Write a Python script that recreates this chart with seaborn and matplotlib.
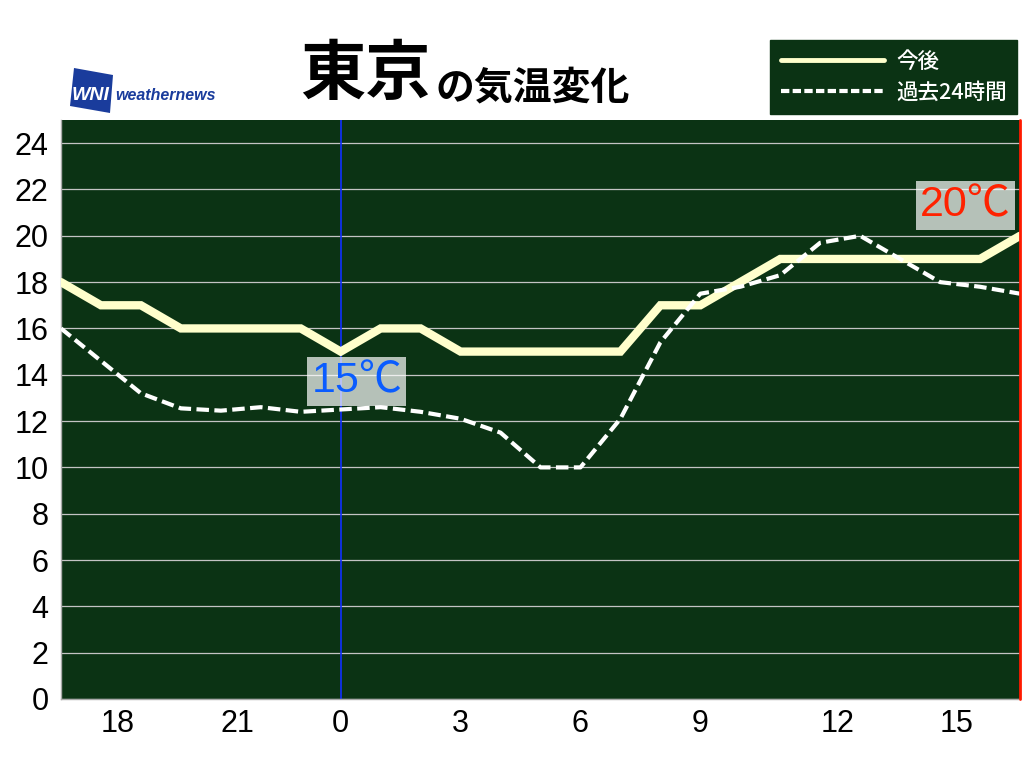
import matplotlib
matplotlib.use('Agg')
import matplotlib.pyplot as plt
import seaborn as sns
import pandas as pd
from matplotlib.patches import Polygon
from matplotlib.lines import Line2D

# ---- data ----
hours = [17, 18, 19, 20, 21, 22, 23, 0, 1, 2, 3, 4, 5, 6, 7, 8, 9, 10, 11, 12, 13, 14, 15, 16, 17]
future_temp = [18, 17, 17, 16, 16, 16, 16, 15, 16, 16, 15, 15, 15, 15, 15, 17, 17, 18, 19, 19, 19, 19, 19, 19, 20]
past_temp = [16.0, 14.6, 13.2, 12.55, 12.45, 12.6, 12.4, 12.5, 12.6, 12.4, 12.1, 11.5, 10.0, 10.0, 12.1,
             15.4, 17.5, 17.8, 18.3, 19.7, 20.0, 19.0, 18.0, 17.8, 17.5]
tick_hours = [18, 21, 0, 3, 6, 9, 12, 15]
y_ticks = list(range(0, 25, 2))
now_label = "15℃"
max_label = "20℃"
legend_labels = ["今後", "過去24時間"]

W, H = 1024, 768
sns.set_style("white")
plt.rcParams['font.family'] = ['Noto Sans CJK JP', 'DejaVu Sans']

df = pd.DataFrame({"pos": range(len(hours)), "hour": hours,
                   "future": future_temp, "past": past_temp})

fig = plt.figure(figsize=(W / 100, H / 100), dpi=100)
fig.patch.set_facecolor('white')

def fx(px):
    return px / W

def fy(py):
    return 1 - py / H

ax = fig.add_axes([fx(61), fy(699), fx(1020) - fx(61), fy(120) - fy(699)])
BG = '#0b3314'
ax.set_facecolor(BG)

sns.lineplot(data=df, x="pos", y="future", ax=ax, color='#ffffcc', lw=6,
             solid_joinstyle='miter', zorder=3)
sns.lineplot(data=df, x="pos", y="past", ax=ax, color='white', lw=3, zorder=4)
ax.lines[-1].set_dashes([3.0, 1.3])

ax.set_xlim(0, len(hours) - 1)
ax.set_ylim(0, 25)
ax.set_xlabel("")
ax.set_ylabel("")

# grid
ax.set_yticks(y_ticks)
ax.yaxis.grid(True, color='#c4c4c4', lw=0.9)
ax.xaxis.grid(False)
ax.set_axisbelow(True)

now_pos = hours.index(0)
ax.axvline(now_pos, color='#1030ff', lw=1.2, zorder=2)
ax.axvline(len(hours) - 1, color='#ff1a00', lw=2, zorder=5, clip_on=False)

tick_pos = []
for h in tick_hours:
    for i, hh in enumerate(hours):
        if hh == h and i > 0:
            tick_pos.append(i)
            break
ax.set_xticks(tick_pos)
ax.set_xticklabels([str(h) for h in tick_hours])
ax.tick_params(axis='both', length=0, colors='black')
ax.tick_params(axis='x', pad=7, labelsize=22)
ax.tick_params(axis='y', pad=9, labelsize=22)
for lab in ax.get_yticklabels():
    lab.set_family(['Liberation Sans', 'DejaVu Sans'])
for lab in ax.get_xticklabels():
    lab.set_family(['Liberation Sans', 'DejaVu Sans'])
    if len(lab.get_text()) == 2:
        lab.set_ha('left')

for s in ['top', 'right']:
    ax.spines[s].set_visible(False)
ax.spines['left'].set_color('#aaaaaa')
ax.spines['bottom'].set_color('#aaaaaa')
ax.spines['left'].set_linewidth(1)
ax.spines['bottom'].set_linewidth(1)

# value labels
lab_family = ['Liberation Sans', 'Noto Sans CJK JP', 'DejaVu Sans']
ax.text(now_pos + 0.4, 13.7, now_label, color='#0a5cff', fontsize=31,
        family=lab_family, ha='center', va='center', zorder=6,
        bbox=dict(boxstyle='square,pad=0.1', facecolor='white', alpha=0.7, edgecolor='none'))
ax.text(22.63, 21.3, max_label, color='#ff2200', fontsize=31,
        family=lab_family, ha='center', va='center', zorder=6,
        bbox=dict(boxstyle='square,pad=0.1', facecolor='white', alpha=0.7, edgecolor='none'))

# title
fig.text(fx(300), fy(75), "東京", fontsize=47, fontweight='bold', color='black',
         ha='left', va='center', family=['Noto Sans CJK JP'])
fig.text(fx(436), fy(88), "の気温変化", fontsize=28, fontweight='bold', color='black',
         ha='left', va='center', family=['Noto Sans CJK JP'])

# logo
poly = Polygon([(fx(74), fy(68)), (fx(113), fy(75)), (fx(110), fy(113)), (fx(70), fy(106))],
               closed=True, transform=fig.transFigure, facecolor='#1a3c9c', edgecolor='none')
fig.patches.append(poly)
fig.text(fx(91), fy(95), "WNI", color='white', fontsize=14, fontweight='bold', style='italic',
         ha='center', va='center', family=['Liberation Sans'])
fig.text(fx(115), fy(96), "weathernews", color='#1a3c9c', fontsize=11.5, fontweight='bold',
         style='italic', ha='left', va='center', family=['Liberation Sans'])

# legend
handles = [Line2D([], [], color='#ffffcc', lw=3.5),
           Line2D([], [], color='white', lw=3, dashes=[2.0, 0.8])]
leg = fig.legend(handles, legend_labels, loc='upper left',
                 bbox_to_anchor=(fx(770), fy(40)), bbox_transform=fig.transFigure,
                 frameon=True, fancybox=False, facecolor=BG, edgecolor=BG, framealpha=1,
                 fontsize=15.5, handlelength=4.8, handletextpad=0.55, labelspacing=0.4,
                 borderpad=0.5, borderaxespad=0)
for t in leg.get_texts():
    t.set_color('white')
    t.set_family(['Noto Sans CJK JP', 'DejaVu Sans'])
    t.set_fontweight('medium')

fig.savefig('out.png', dpi=100, facecolor='white')
